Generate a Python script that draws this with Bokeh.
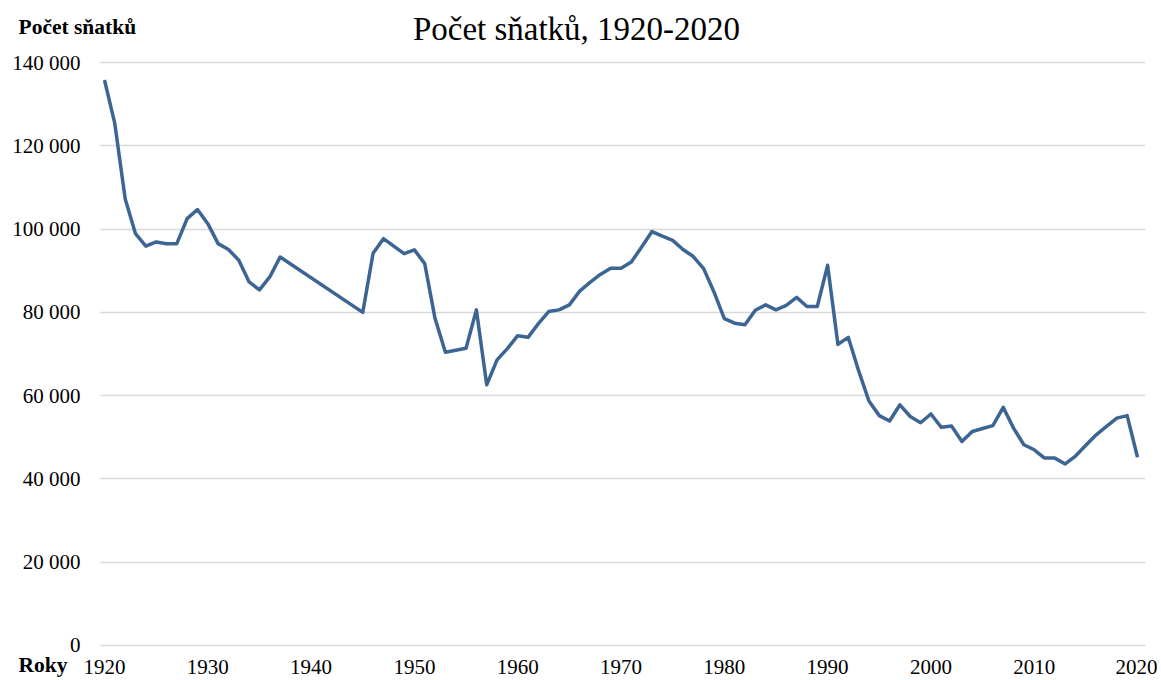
from bokeh.plotting import figure
from bokeh.models import Range1d, Label, FixedTicker, Grid
from bokeh.embed import file_html
from bokeh.resources import INLINE

years = [1920, 1921, 1922, 1923, 1924, 1925, 1926, 1927, 1928, 1929,
         1930, 1931, 1932, 1933, 1934, 1935, 1936, 1937,
         1945, 1946, 1947, 1948, 1949,
         1950, 1951, 1952, 1953, 1954, 1955, 1956, 1957, 1958, 1959,
         1960, 1961, 1962, 1963, 1964, 1965, 1966, 1967, 1968, 1969,
         1970, 1971, 1972, 1973, 1974, 1975, 1976, 1977, 1978, 1979,
         1980, 1981, 1982, 1983, 1984, 1985, 1986, 1987, 1988, 1989,
         1990, 1991, 1992, 1993, 1994, 1995, 1996, 1997, 1998, 1999,
         2000, 2001, 2002, 2003, 2004, 2005, 2006, 2007, 2008, 2009,
         2010, 2011, 2012, 2013, 2014, 2015, 2016, 2017, 2018, 2019,
         2020]
marriages = [135800, 125300, 107300, 98900, 95900, 96900, 96500, 96500, 102500, 104700,
             101300, 96500, 95100, 92500, 87300, 85400, 88500, 93300,
             80000, 94200, 97700, 95900, 94100,
             95000, 91700, 78500, 70400, 70900, 71400, 80600, 62600, 68600, 71300,
             74400, 74000, 77300, 80200, 80600, 81800, 85100, 87200, 89100, 90600,
             90600, 92100, 95700, 99400, 98300, 97300, 95100, 93400, 90500, 84900,
             78500, 77400, 77000, 80500, 81800, 80600, 81700, 83600, 81400, 81400,
             91300, 72300, 74000, 66000, 58700, 55200, 53900, 57800, 55000, 53500,
             55600, 52400, 52700, 49000, 51400, 52100, 52800, 57200, 52200, 48200,
             47000, 45000, 45000, 43600, 45500, 48100, 50600, 52600, 54600, 55200,
             45200]

y_ticks = [0, 20000, 40000, 60000, 80000, 100000, 120000, 140000]
y_tick_labels = ["0", "20 000", "40 000", "60 000", "80 000", "100 000", "120 000", "140 000"]
x_ticks = [1920, 1930, 1940, 1950, 1960, 1970, 1980, 1990, 2000, 2010, 2020]

title_text = "Počet sňatků, 1920-2020"
y_title = "Počet sňatků"
x_title = "Roky"

FONT = "Liberation Serif"
W, H = 1157, 680

# plot area (where the grid lives) in data units
X_LEFT, X_RIGHT = 1919.613, 2020.77
Y_BOTTOM = -240

p = figure(width=W, height=H, output_backend="svg", toolbar_location=None,
           x_range=Range1d(1909.932, 2021.936), y_range=Range1d(-8405, 154889),
           min_border_left=0, min_border_right=0, min_border_top=0, min_border_bottom=0)
p.outline_line_color = None
p.background_fill_color = "white"
p.border_fill_color = "white"

# horizontal grid lines, limited to the plot area
p.xgrid.grid_line_color = None
p.ygrid.grid_line_color = None
if "cross_bounds" in Grid.properties():
    g = Grid(dimension=1, ticker=FixedTicker(ticks=y_ticks),
             cross_bounds=(X_LEFT, X_RIGHT),
             grid_line_color="#d9d9d9", grid_line_width=1.5)
    p.add_layout(g)
else:
    p.segment(x0=[X_LEFT] * len(y_ticks), x1=[X_RIGHT] * len(y_ticks),
              y0=y_ticks, y1=y_ticks, line_color="#d9d9d9", line_width=1.5)

p.line(years, marriages, line_color="#3d6594", line_width=3.5, line_join="round")

p.yaxis.ticker = FixedTicker(ticks=y_ticks)
p.yaxis.major_label_overrides = {t: l for t, l in zip(y_ticks, y_tick_labels)}
p.xaxis.ticker = FixedTicker(ticks=x_ticks)
p.yaxis.fixed_location = X_LEFT
p.xaxis.fixed_location = Y_BOTTOM

for ax in (p.xaxis[0], p.yaxis[0]):
    ax.axis_line_color = None
    ax.major_tick_line_color = None
    ax.minor_tick_line_color = None
    ax.major_tick_out = 0
    ax.major_tick_in = 0
    ax.major_label_text_font = FONT
    ax.major_label_text_font_size = "21px"
    ax.major_label_text_color = "black"
p.yaxis.major_label_standoff = 20
p.xaxis.major_label_standoff = 14

# screen units are measured from the frame's left / bottom edge (frame = whole canvas)
p.add_layout(Label(x=576, y=H - 28, x_units="screen", y_units="screen", text=title_text,
                   text_font=FONT, text_font_size="33px", text_align="center",
                   text_baseline="alphabetic", text_color="black"))
p.add_layout(Label(x=18, y=H - 26, x_units="screen", y_units="screen", text=y_title,
                   text_font=FONT, text_font_size="21.5px", text_font_style="bold",
                   text_align="left", text_baseline="alphabetic", text_color="black"))
p.add_layout(Label(x=18, y=16, x_units="screen", y_units="screen", text=x_title,
                   text_font=FONT, text_font_size="21.5px", text_font_style="bold",
                   text_align="left", text_baseline="alphabetic", text_color="black"))

open("out.html", "w").write(file_html(p, INLINE))
